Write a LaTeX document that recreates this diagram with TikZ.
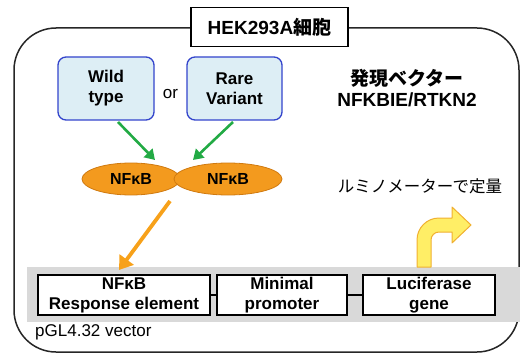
\documentclass[tikz,border=0pt]{standalone}
\usepackage{fontspec}
\setmainfont{Liberation Sans}
\newfontfamily\cjk{Noto Sans CJK JP}
\usetikzlibrary{arrows.meta,shapes.geometric}
\definecolor{boxblue}{HTML}{3344CC}
\definecolor{boxfill}{HTML}{DDEEF5}
\definecolor{orfill}{HTML}{F39A1E}
\definecolor{ordraw}{HTML}{D07A10}
\definecolor{arrgreen}{HTML}{22AA44}
\definecolor{arrorange}{HTML}{F7A11A}
\definecolor{band}{HTML}{D9D9D9}
\definecolor{yfill}{HTML}{FFEE66}
\definecolor{ydraw}{HTML}{F0B030}
\tikzset{
  txt/.style={font=\fontsize{17}{20}\selectfont\bfseries, align=center, inner sep=0pt},
  varbox/.style={draw=boxblue, fill=boxfill, line width=1.3pt, rounded corners=8pt, minimum width=96pt, minimum height=63pt, txt},
  nfk/.style={ellipse, draw=ordraw, fill=orfill, line width=0.8pt, minimum height=32pt, txt, font=\fontsize{16}{18}\selectfont\bfseries},
  genebox/.style={draw=black, fill=white, line width=1.3pt, minimum height=40pt, txt},
  garrow/.style={draw=arrgreen, line width=2.6pt, -{Stealth[length=10pt,width=12pt,inset=0pt]}},
  oarrow/.style={draw=arrorange, line width=3.8pt, -{Stealth[length=13pt,width=17pt,inset=0pt]}},
  link/.style={draw=black, line width=2pt}
}
\begin{document}
\begin{tikzpicture}[x=1pt,y=-1pt]
\useasboundingbox (0,0) rectangle (520,353);
% outer cell
\draw[line width=1.5pt, rounded corners=42pt, draw=black!85] (14,28) rectangle (519,352);
\node[draw=black, fill=white, line width=1.3pt, minimum width=157pt, minimum height=39pt, inner sep=0pt] (title) at (269.5,27) {\fontsize{19}{21}\selectfont\bfseries HEK293A{\cjk\bfseries 細胞}};
% variant boxes
\node[varbox] (wild) at (106,88.5) {Wild\\type};
\node[varbox, minimum width=95pt] (rare) at (234.5,88.5) {Rare\\Variant};
\node[font=\fontsize{17}{19}\selectfont, inner sep=0pt] (or) at (170.5,94) {or};
\node[txt, font=\fontsize{19}{21}\selectfont\bfseries] (vec) at (407,88) {{\cjk\bfseries 発現ベクター}\\NFKBIE/RTKN2};
% NFkB ellipses
\node[nfk, minimum width=98pt] (nf1) at (131,179) {NFκB};
\node[nfk, minimum width=108pt] (nf2) at (228,179) {NFκB};
% arrows
\coordinate (g1s) at (118,122);
\coordinate (g1e) at (155,160);
\coordinate (g2s) at (233,122);
\coordinate (g2e) at (193,160);
\draw[garrow] (g1s) -- (g1e);
\draw[garrow] (g2s) -- (g2e);
\coordinate (os) at (170,201);
\coordinate (oe) at (119,270);
% band and genes
\fill[band] (27,267) rectangle (520,322);
\node[genebox, minimum width=172pt] (resp) at (124,295) {NFκB\\Response element};
\node[genebox, minimum width=130pt] (prom) at (282,295) {Minimal\\promoter};
\node[genebox, minimum width=132pt] (luc) at (429,295) {Luciferase\\gene};
\draw[link] (resp.east) -- (prom.west);
\draw[link] (prom.east) -- (luc.west);
\draw[oarrow] (os) -- (oe);
\node[font=\fontsize{17}{20}\selectfont, anchor=west, inner sep=0pt] (vlab) at (35,332) {pGL4.32 vector};
\node[font=\cjk\fontsize{16.5}{20}\selectfont, inner sep=0pt] (lumi) at (420,186) {ルミノメーターで定量};
% yellow bent arrow
\draw[fill=yfill, draw=ydraw, line width=1pt, line join=round]
  (417,267) -- (417,240) arc[start angle=180, end angle=270, radius=22] -- (452,218) -- (452,207) -- (471,225) -- (452,243) -- (452,232) -- (439,232) arc[start angle=270, end angle=180, radius=8] -- (431,267) -- cycle;
\end{tikzpicture}
\end{document}
